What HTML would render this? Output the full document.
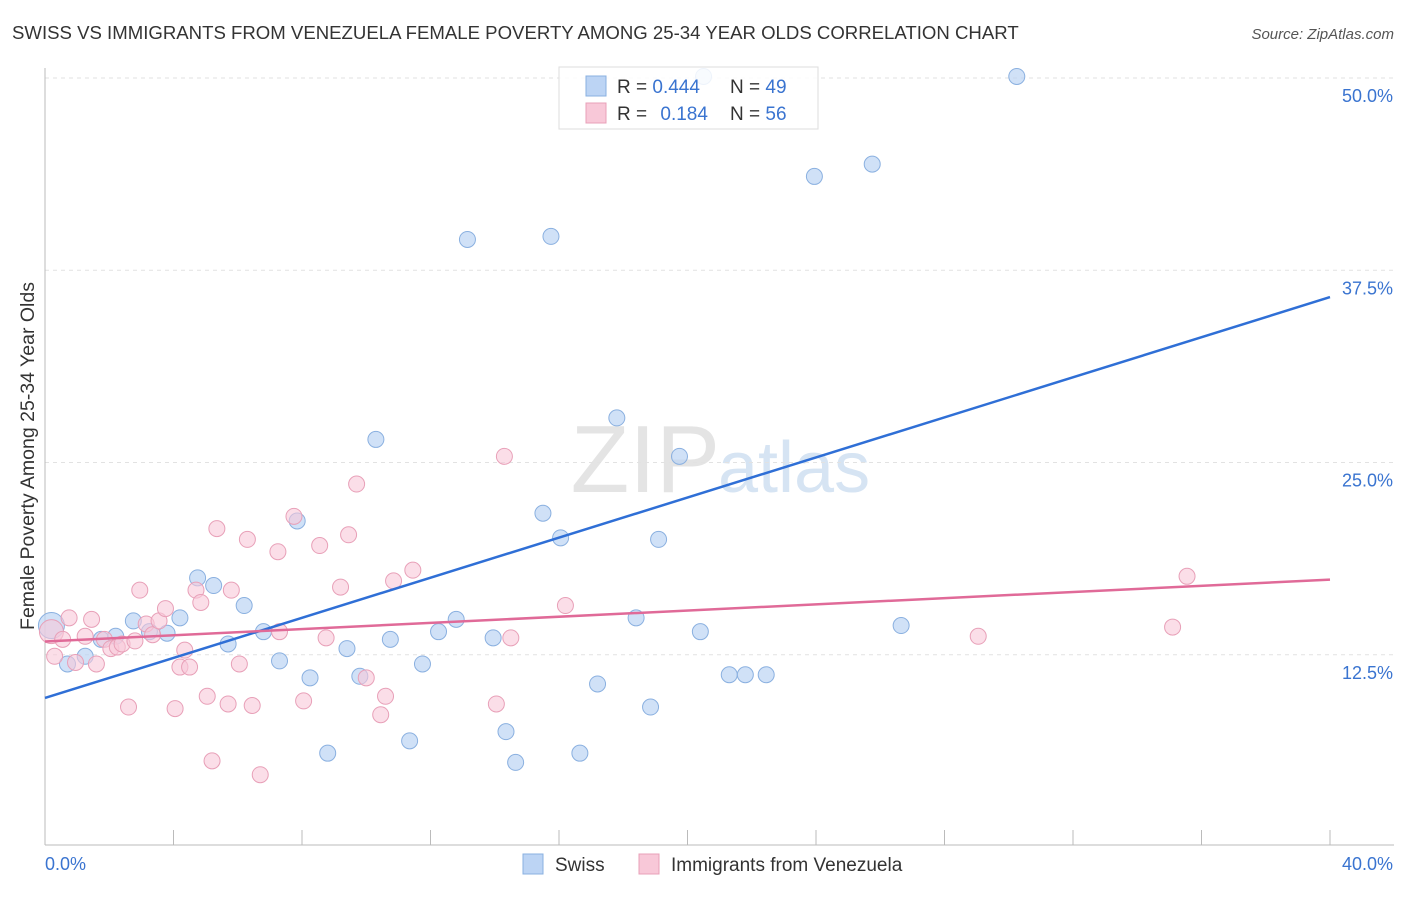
<!DOCTYPE html>
<html><head><meta charset="utf-8"><style>
body{margin:0;background:#fff;font-family:"Liberation Sans",sans-serif}
svg text{font-family:"Liberation Sans",sans-serif}
</style></head><body>
<svg width="1406" height="892">
<text x="12" y="39" font-size="18.6" fill="#333">SWISS VS IMMIGRANTS FROM VENEZUELA FEMALE POVERTY AMONG 25-34 YEAR OLDS CORRELATION CHART</text>
<text x="1394" y="39" font-size="15" fill="#555" text-anchor="end" font-style="italic">Source: ZipAtlas.com</text>
<text x="720" y="492" font-size="96" fill="#e4e4e4" text-anchor="end" font-family="Liberation Serif">ZIP</text>
<text x="718" y="492" font-size="72" fill="#d6e4f3">atlas</text>
<g id="grid"></g><g id="axes"></g><g id="pts"></g><g id="lines"></g>
<text x="34" y="456" font-size="19.5" fill="#333" text-anchor="middle" transform="rotate(-90 34 456)">Female Poverty Among 25-34 Year Olds</text>
<g>
<rect x="559" y="67" width="259" height="62" fill="#fff" fill-opacity="0.85" stroke="#ddd"/>
<rect x="586" y="76" width="20" height="20" fill="#bcd4f4" stroke="#8ab0e0"/>
<rect x="586" y="103" width="20" height="20" fill="#f8c8d8" stroke="#e8a0b8"/>
<text x="617" y="93" font-size="19" fill="#333">R = <tspan fill="#3a74d0">0.444</tspan></text>
<text x="730" y="93" font-size="19" fill="#333">N = <tspan fill="#3a74d0">49</tspan></text>
<text x="617" y="120" font-size="19" fill="#333">R = <tspan fill="#3a74d0" dx="8">0.184</tspan></text>
<text x="730" y="120" font-size="19" fill="#333">N = <tspan fill="#3a74d0">56</tspan></text>
</g>
<g>
<rect x="523" y="854" width="20" height="20" fill="#bcd4f4" stroke="#8ab0e0"/>
<text x="555" y="871" font-size="19" fill="#333">Swiss</text>
<rect x="639" y="854" width="20" height="20" fill="#f8c8d8" stroke="#e8a0b8"/>
<text x="671" y="871" font-size="19" fill="#333">Immigrants from Venezuela</text>
</g>
</svg>
<script>
const swissX=[0.2,0.7,1.25,1.75,2.2,2.75,3.25,3.8,4.2,4.75,5.25,5.7,6.2,6.8,7.3,7.85,8.25,8.8,9.4,9.8,10.3,10.75,11.35,11.75,12.25,12.8,13.15,13.95,14.35,14.65,15.5,15.75,16.05,16.65,17.2,17.8,18.4,18.85,19.1,19.75,20.4,20.5,21.3,21.8,22.45,23.95,25.75,26.65,30.25];
const swissY=[14.4,11.9,12.4,13.5,13.7,14.7,14.0,13.9,14.9,17.5,17.0,13.2,15.7,14.0,12.1,21.2,11.0,6.1,12.9,11.1,26.5,13.5,6.9,11.9,14.0,14.8,39.5,13.6,7.5,5.5,21.7,39.7,20.1,6.1,10.6,27.9,14.9,9.1,20.0,25.4,14.0,50.1,11.2,11.2,11.2,43.6,44.4,14.4,50.1];
const venX=[0.2,0.3,0.55,0.75,0.95,1.25,1.45,1.6,1.85,2.05,2.25,2.4,2.6,2.8,2.95,3.15,3.35,3.55,3.75,4.05,4.2,4.35,4.5,4.7,4.85,5.05,5.35,5.7,5.8,6.05,6.3,6.45,6.7,7.25,7.3,7.75,8.05,8.55,8.75,9.2,9.45,9.7,10.0,10.45,10.6,10.85,11.45,14.05,14.3,14.5,16.2,5.2,29.05,35.1,35.55];
const venY=[14.0,12.4,13.5,14.9,12.0,13.7,14.8,11.9,13.5,12.9,13.0,13.2,9.1,13.4,16.7,14.5,13.8,14.7,15.5,9.0,11.7,12.8,11.7,16.7,15.9,9.8,20.7,9.3,16.7,11.9,20.0,9.2,4.7,19.2,14.0,21.5,9.5,19.6,13.6,16.9,20.3,23.6,11.0,8.6,9.8,17.3,18.0,9.3,25.4,13.6,15.7,5.6,13.7,14.3,17.6];
const ticksY=[12.5,25,37.5,50], ticksYL=["12.5%","25.0%","37.5%","50.0%"];
const NS="http://www.w3.org/2000/svg";
const X=v=>45+v/40*1285, Y=v=>847-v/50*769;
function mk(t,a,p){const e=document.createElementNS(NS,t);for(const k in a)e.setAttribute(k,a[k]);document.getElementById(p).appendChild(e);return e;}
ticksY.forEach((t,i)=>{const g=mk('line',{x1:45,x2:1394,y1:Y(t),y2:Y(t),stroke:'#e2e2e2','stroke-dasharray':'4,4'},'grid');


const tx=mk('text',{x:1393,y:Y(t)+24,'font-size':18,fill:'#3a74d0','text-anchor':'end'},'axes');tx.textContent=ticksYL[i];

});
let a=mk('line',{x1:45,x2:1394,y1:845,y2:845,stroke:'#bbb'},'axes');


a=mk('line',{x1:45,x2:45,y1:68,y2:845,stroke:'#bbb'},'axes');


for(let i=0;i<=10;i++){const t=mk('line',{x1:X(i*4),x2:X(i*4),y1:830,y2:845,stroke:'#bbb'},'axes');

}
let l=mk('text',{x:45,y:870,'font-size':18,fill:'#3a74d0'},'axes');l.textContent='0.0%';


l=mk('text',{x:1393,y:870,'font-size':18,fill:'#3a74d0','text-anchor':'end'},'axes');l.textContent='40.0%';


swissX.forEach((x,i)=>{const c=mk('circle',{cx:X(x),cy:Y(swissY[i]),r:i==0?13:8,fill:'#bcd4f4','fill-opacity':0.7,stroke:'#8ab0e0'},'pts');

});
venX.forEach((x,i)=>{const c=mk('circle',{cx:X(x),cy:Y(venY[i]),r:i==0?12:8,fill:'#f8c8d8','fill-opacity':0.6,stroke:'#e8a0b8'},'pts');

});
function fit(xs,ys){const n=xs.length,mx=xs.reduce((a,b)=>a+b)/n,my=ys.reduce((a,b)=>a+b)/n;let sxy=0,sxx=0;xs.forEach((x,i)=>{sxy+=(x-mx)*(ys[i]-my);sxx+=(x-mx)**2});const b=sxy/sxx;return[my-b*mx,b];}
[[swissX,swissY,'#2f6fd6','swiss-trend-line'],[venX,venY,'#e06a98','venezuela-trend-line']].forEach(([xs,ys,c,n])=>{const[a0,b]=fit(xs,ys);
const ln=mk('line',{x1:X(0),y1:Y(a0),x2:X(40),y2:Y(a0+b*40),stroke:c,'stroke-width':2.5},'lines');

});
</script>
</body></html>
